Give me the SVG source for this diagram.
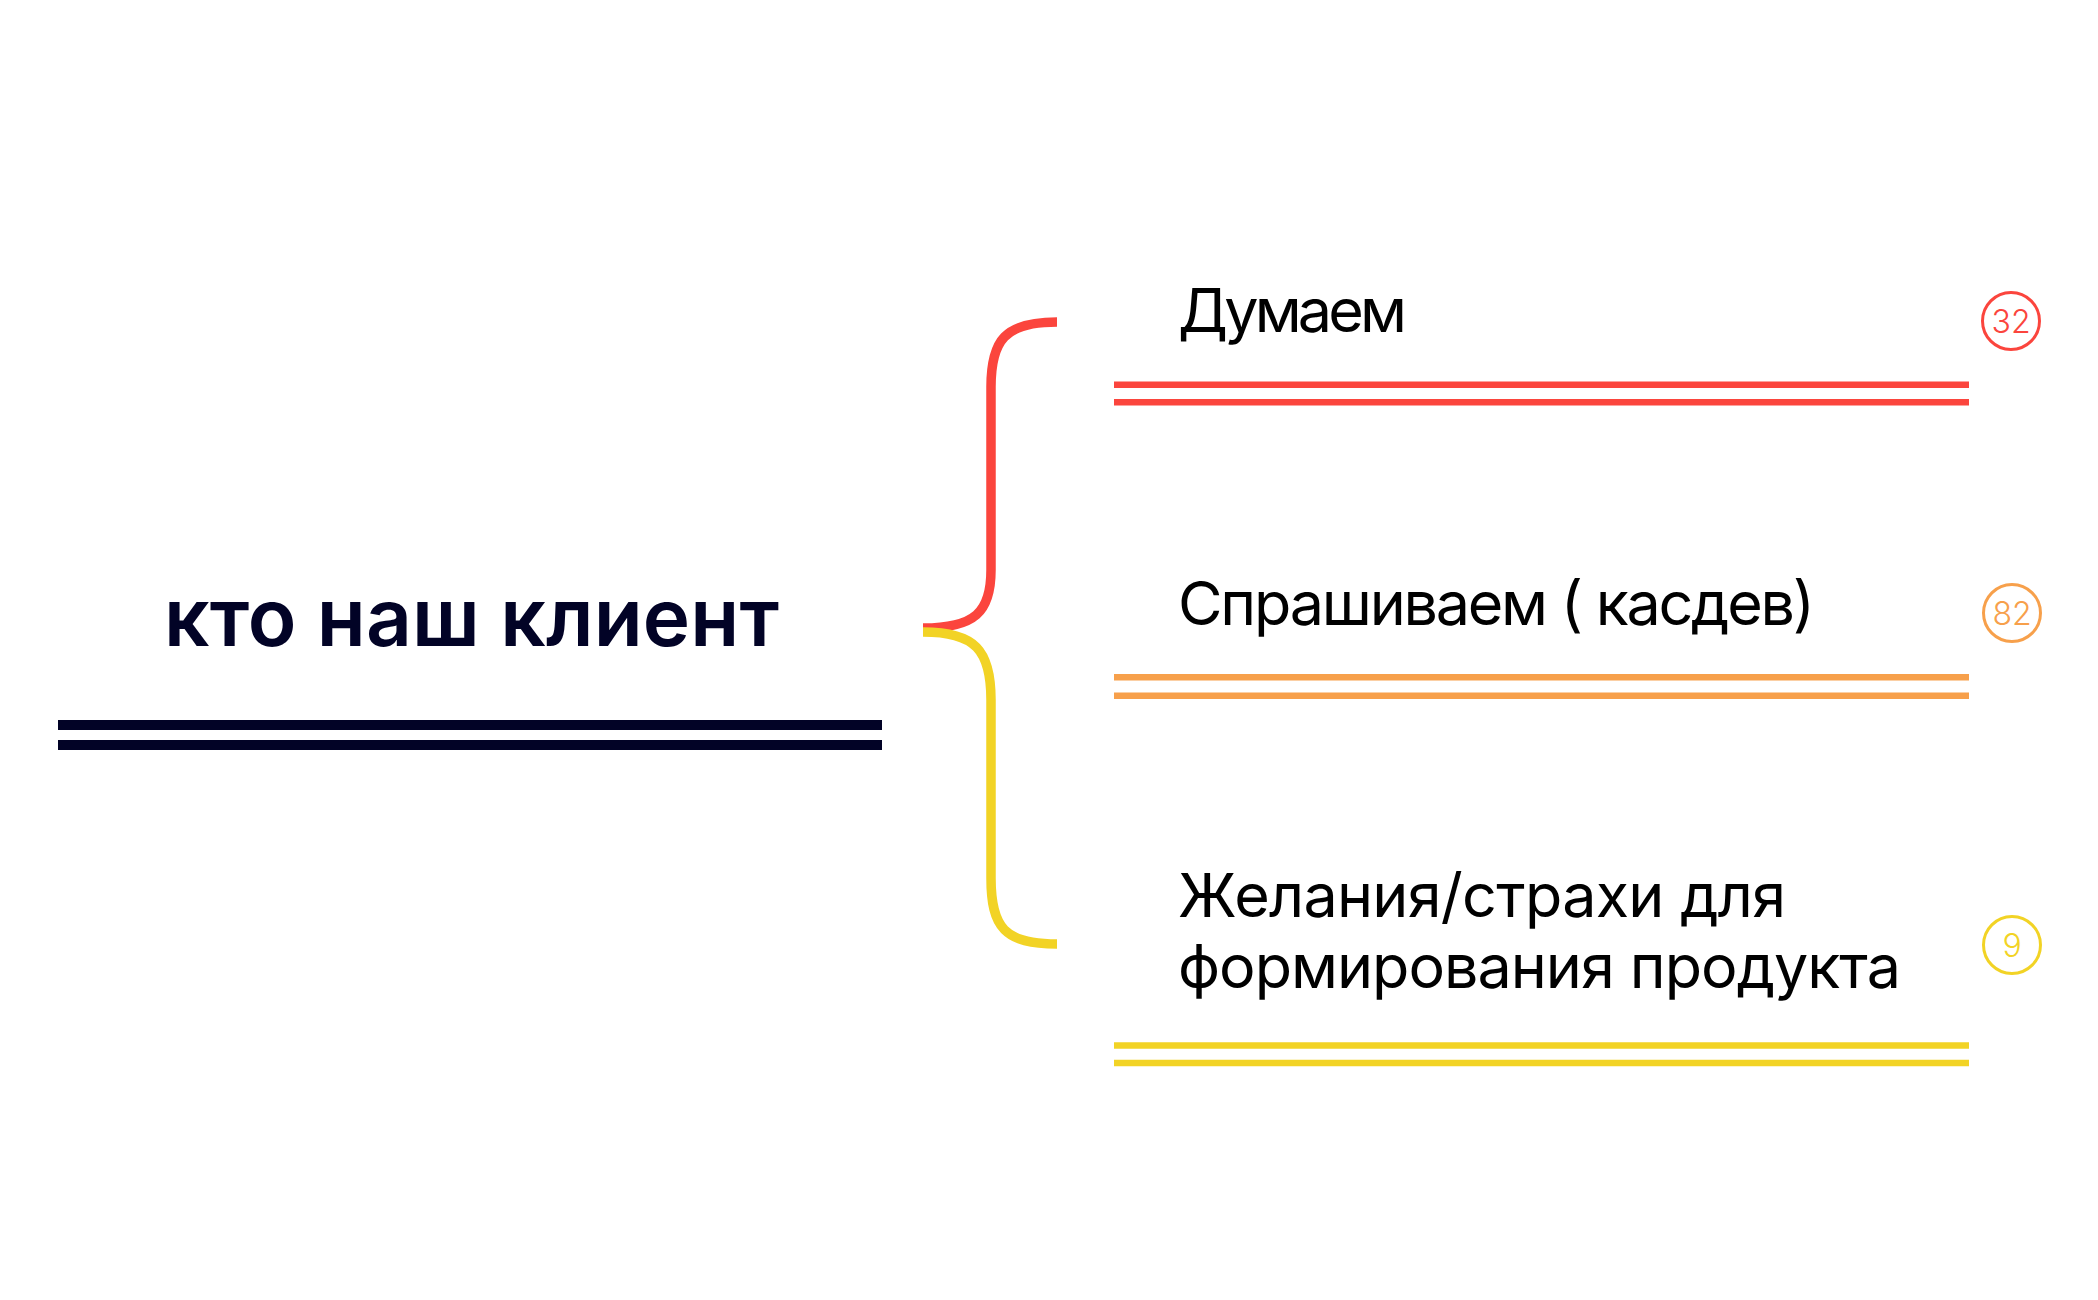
<svg xmlns="http://www.w3.org/2000/svg" width="2098" height="1300" viewBox="0 0 2098 1300">
<style>
.t{font-family:Inter,"Noto Sans","Liberation Sans",sans-serif;fill:#000;font-size:61px;font-weight:400}
.title{font-family:Inter,"Noto Sans","Liberation Sans",sans-serif;fill:#020326;font-size:80px;font-weight:600}
.num{font-family:Inter,"Noto Sans","Liberation Sans",sans-serif;font-size:32px;font-weight:300;text-anchor:middle}
.br{fill:none;stroke-width:9.5;stroke-linecap:butt}
.red{stroke:#FB453D}
.org{stroke:#F7A04B}
.yel{stroke:#F2D325}
</style>
<rect width="2098" height="1300" fill="#fff"/>
<g id="node-title">
<text class="title" x="164" y="646" textLength="615">кто наш клиент</text>
<rect x="58" y="720" width="824" height="10" fill="#020326"/>
<rect x="58" y="740" width="824" height="10" fill="#020326"/>
</g>
<g id="connectors">
<path class="br red" d="M1057,322 C1005,322 991,340 991,387 L991,570 C991,612 975,628 923,628"/>
<path class="br yel" d="M923,632 C975,632 991,650 991,700 L991,878 C991,928 1005,944 1057,944"/>
</g>
<g id="node-dumaem">
<text class="t" x="1178" y="332" textLength="229">Думаем</text>
<line class="red" x1="1114" y1="384.7" x2="1969" y2="384.7" stroke-width="6.5"/>
<line class="red" x1="1114" y1="402.3" x2="1969" y2="402.3" stroke-width="6.5"/>
<circle class="red" cx="2011" cy="321" r="28.5" fill="none" stroke-width="3"/>
<text class="num" x="2011" y="332.5" fill="#FB453D">32</text>
</g>
<g id="node-sprashivaem">
<text class="t" x="1178" y="625" textLength="637">Спрашиваем ( касдев)</text>
<line class="org" x1="1114" y1="677.3" x2="1969" y2="677.3" stroke-width="6.5"/>
<line class="org" x1="1114" y1="695.7" x2="1969" y2="695.7" stroke-width="6.5"/>
<circle class="org" cx="2012" cy="613" r="28.5" fill="none" stroke-width="3"/>
<text class="num" x="2012" y="624.5" fill="#F7A04B">82</text>
</g>
<g id="node-zhelaniya">
<text class="t" x="1178" y="917" textLength="608">Желания/страхи для</text>
<text class="t" x="1178" y="988" textLength="723">формирования продукта</text>
<line class="yel" x1="1114" y1="1045.5" x2="1969" y2="1045.5" stroke-width="6.5"/>
<line class="yel" x1="1114" y1="1063" x2="1969" y2="1063" stroke-width="6.5"/>
<circle class="yel" cx="2012" cy="945" r="28.5" fill="none" stroke-width="3"/>
<text class="num" x="2012" y="956.5" fill="#F2D325">9</text>
</g>
</svg>
